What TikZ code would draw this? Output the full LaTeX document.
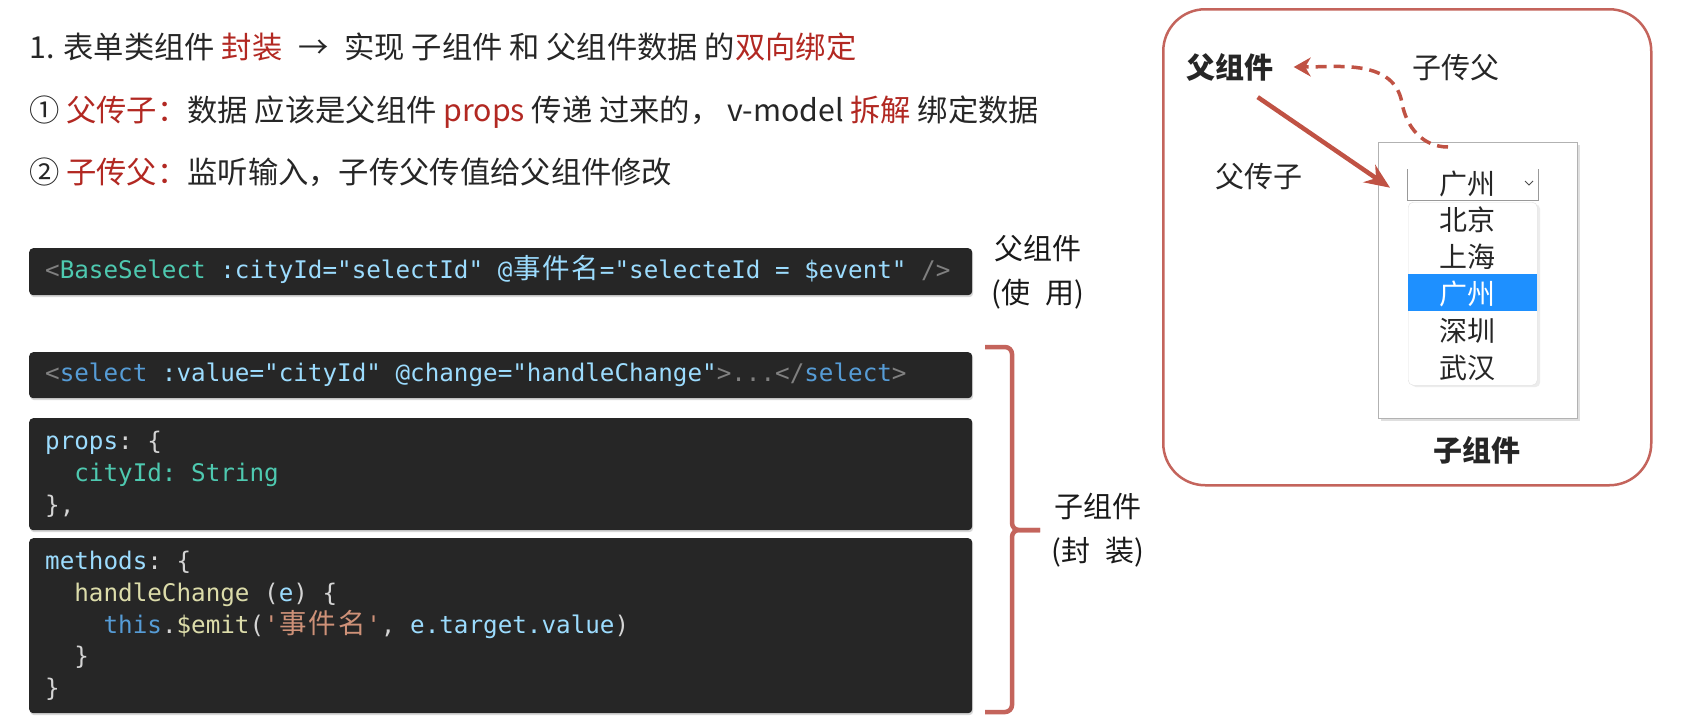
\documentclass[tikz,border=0pt]{standalone}
\usepackage{fontspec}
\setmainfont{Noto Sans CJK SC}
\setmonofont{DejaVu Sans Mono}
\newfontfamily\cjk{Noto Sans CJK SC}
\usetikzlibrary{arrows.meta,shadows}
\definecolor{figR}{RGB}{178,40,34}
\definecolor{figL}{RGB}{196,100,92}
\definecolor{figA}{RGB}{192,82,68}
\definecolor{codeBg}{RGB}{38,38,38}
\definecolor{codeGr}{RGB}{128,128,128}
\definecolor{codeTl}{RGB}{78,201,176}
\definecolor{codeAt}{RGB}{156,220,254}
\definecolor{codeKw}{RGB}{86,156,214}
\definecolor{codeFn}{RGB}{220,220,170}
\definecolor{codeOr}{RGB}{206,145,120}
\definecolor{codeW}{RGB}{212,212,212}
\definecolor{selB}{RGB}{30,144,255}
\newcommand\wch[1]{\makebox[29.2pt]{\fontsize{27.5}{30}\cjk #1}}

\begin{document}
\begin{tikzpicture}[x=1pt,y=-1pt,
  txt/.style={anchor=west,inner sep=0,text=black!85,font=\fontsize{30.3}{36}\selectfont,text height=23pt,text depth=0.5pt},
  codebox/.style={anchor=north west,fill=codeBg,rounded corners=4pt,inner sep=0,minimum width=943pt,
    drop shadow={opacity=0.3,shadow xshift=1pt,shadow yshift=-2pt}},
  code/.style={anchor=west,inner sep=0,text=codeW,font=\fontsize{24.25}{30}\ttfamily,text height=18pt,text depth=6pt},
  side/.style={align=center,text=black!90,font=\fontsize{29}{44}\selectfont},
  lbl/.style={inner sep=0,text=black!85,font=\fontsize{29}{35}\selectfont},
  item/.style={inner sep=0,font=\fontsize{28}{34}\selectfont},
  brace/.style={draw=figL,line width=4.5pt,rounded corners=7pt},
  fatarr/.style={draw=figA,line width=4.5pt,-{Stealth[length=25pt,width=21pt]}},
  dasharr/.style={draw=figA,line width=3.5pt,dash pattern=on 11pt off 7pt,-{Stealth[length=17pt,width=19pt]}}]
\fill[white] (0,0) rectangle (1694,721);
\useasboundingbox (0,0) rectangle (1694,721);
% ---------- heading ----------
\node[txt] (t1) at (29,47) {1. 表单类组件 \textcolor{figR}{封装}\hspace{0.3em} → \hspace{0.3em}实现 子组件 和 父组件数据 的\textcolor{figR}{双向绑定}};
\node[txt] (t2) at (29,110) {① \textcolor{figR}{父传子：}数据 应该是父组件 \textcolor{figR}{props} 传递 过来的， v-model \textcolor{figR}{拆解} 绑定数据};
\node[txt] (t3) at (29,172) {② \textcolor{figR}{子传父：}监听输入，子传父传值给父组件修改};
% ---------- code ----------
\node[codebox,minimum height=47pt] (useBox) at (29,248) {};
\node[codebox,minimum height=46pt] (selBox) at (29,352) {};
\node[codebox,minimum height=112pt] (propsBox) at (29,418) {};
\node[codebox,minimum height=175pt] (methBox) at (29,538) {};
\node[code] (c1) at (45,272) {\color{codeGr}<\color{codeTl}BaseSelect \color{codeAt}:cityId="selectId" @\wch{事}\wch{件}\wch{名}="selecteId = \$event" \color{codeGr}/>};
\node[code] (c2) at (45,375) {\color{codeGr}<\color{codeKw}select \color{codeAt}:value="cityId" @change="handleChange"\color{codeGr}>...</\color{codeKw}select\color{codeGr}>};
\node[code] (c3) at (45,443) {\color{codeAt}props\color{codeW}: \{};
\node[code] (c4) at (74.2,475) {\color{codeTl}cityId: String};
\node[code] (c5) at (45,507) {\},};
\node[code] (c6) at (45,563) {\color{codeAt}methods\color{codeW}: \{};
\node[code] (c7) at (74.2,595) {\color{codeFn}handleChange \color{codeW}(\color{codeAt}e\color{codeW}) \{};
\node[code] (c8) at (103.4,627) {\color{codeKw}this\color{codeW}.\color{codeFn}\$emit\color{codeW}(\color{codeOr}'\wch{事}\wch{件}\wch{名}'\color{codeW}, \color{codeAt}e.target.value\color{codeW})};
\node[code] (c9) at (74.2,658) {\}};
\node[code] (c10) at (45,690) {\}};
% ---------- labels and brace ----------
\node[side] (useLbl) at (1038,272) {父组件\\(使\enspace 用)};
\draw[brace] (985,347) -- (1012,347) -- (1012,530) -- (1040,530);
\draw[brace] (985,712) -- (1012,712) -- (1012,530) -- (1040,530);
\node[side] (subLbl) at (1098,530) {子组件\\(封\enspace 装)};
% ---------- demo ----------
\node[draw=figL,line width=2.5pt,rounded corners=42pt,anchor=north west,inner sep=0,
  minimum width=488pt,minimum height=476pt] (demo) at (1162,8) {};
\node[lbl,font=\fontsize{29}{35}\selectfont\bfseries] (parent) at (1230,67) {父组件};
\node[lbl] (c2pLbl) at (1456,68) {子传父};
\node[lbl] (p2cLbl) at (1259,177) {父传子};
\node[anchor=north west,inner sep=0,fill=white,draw=black!30,line width=1pt,
  minimum width=199pt,minimum height=276pt,drop shadow={opacity=0.25,shadow xshift=2pt,shadow yshift=-2pt}] (childWin) at (1378,142) {};
\node[lbl,font=\fontsize{29}{35}\selectfont\bfseries] (childLbl) at (1477,450) {子组件};
% select box
\node[anchor=north west,inner sep=0,minimum width=131pt,minimum height=31pt] (sel) at (1407,169) {};
\draw[black!40,line width=1pt] (sel.north west) |- (sel.south east) -- (sel.north east);
\node[item,text=black!85] (selTxt) at (1467,184) {广州};
\draw[black!70,line width=1pt] (1525,181) -- (1529,185) -- (1533,181);
% drop-down list
\node[anchor=north west,inner sep=0,fill=white,draw=black!12,rounded corners=5pt,
  minimum width=129pt,minimum height=183pt,drop shadow={opacity=0.15,shadow xshift=3pt,shadow yshift=-2pt}] (menu) at (1408,202) {};
\node[anchor=north west,inner sep=0,fill=selB,minimum width=129pt,minimum height=37pt] (hl) at (1408,274) {};
\foreach \c/\col [count=\i] in {北京/black!85,上海/black!85,广州/white,深圳/black!85,武汉/black!85}
  \node[item,text=\col] (city\i) at (1467,183+37*\i) {\c};
% arrows
\coordinate (bend) at (1402,103);
\draw[fatarr] ([xshift=-16pt,yshift=-16pt]parent.south east) -- ([xshift=-17pt,yshift=-3pt]sel.west);
\draw[dasharr] ([xshift=-30pt,yshift=-5pt]childWin.north) to[out=180,in=-80] (bend) to[out=100,in=0] ([xshift=20pt]parent.east);
\end{tikzpicture}
\end{document}
